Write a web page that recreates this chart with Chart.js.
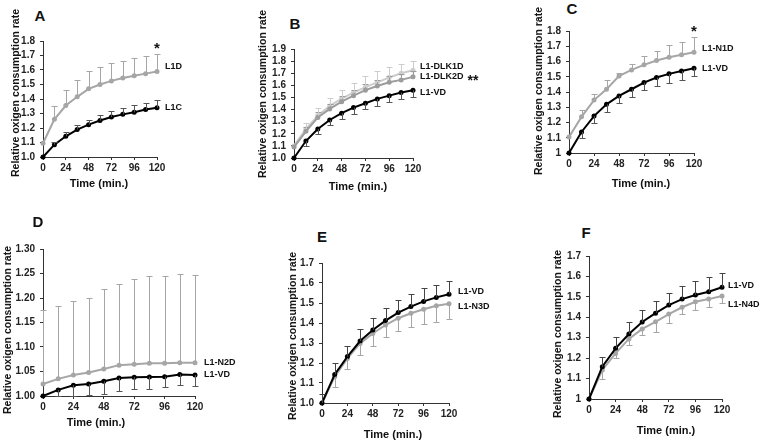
<!DOCTYPE html>
<html>
<head>
<meta charset="utf-8">
<script src="https://cdn.jsdelivr.net/npm/chart.js@4.4.1/dist/chart.umd.min.js"></script>
<style>
  html, body { margin: 0; padding: 0; background: #fff; }
  #fig { position: relative; width: 760px; height: 442px; overflow: hidden; font-family: Arial, "Liberation Sans", sans-serif; color: #111; }
  #fig canvas { position: absolute; }
  .lt { position: absolute; font-weight: bold; font-size: 15px; transform: translate(-50%, -50%); }
  .xt { position: absolute; font-weight: bold; font-size: 11px; white-space: nowrap; transform: translate(-50%, -50%); }
  .yt { position: absolute; font-weight: bold; font-size: 10.5px; white-space: nowrap; transform: translate(-50%, -50%) rotate(-90deg); }
</style>
</head>
<body>
<div id="fig"></div>
<script>
/* Relative oxigen consumption rate — 6 paneller (A–F) */

// ortak eksen
const timeMin = [0, 12, 24, 36, 48, 60, 72, 84, 96, 108, 120];
const xTickValues = [0, 24, 48, 72, 96, 120];
const xTickLabels = ["0", "24", "48", "72", "96", "120"];

// y tick'leri
const yTicksA = [1.0, 1.1, 1.2, 1.3, 1.4, 1.5, 1.6, 1.7, 1.8];
const yLabelsA = ["1.0", "1.1", "1.2", "1.3", "1.4", "1.5", "1.6", "1.7", "1.8"];
const yTicksB = [1.0, 1.1, 1.2, 1.3, 1.4, 1.5, 1.6, 1.7, 1.8, 1.9];
const yLabelsB = ["1.0", "1.1", "1.2", "1.3", "1.4", "1.5", "1.6", "1.7", "1.8", "1.9"];
const yTicksC = [1.0, 1.1, 1.2, 1.3, 1.4, 1.5, 1.6, 1.7, 1.8];
const yLabelsC = ["1", "1.1", "1.2", "1.3", "1.4", "1.5", "1.6", "1.7", "1.8"];
const yTicksD = [1.00, 1.05, 1.10, 1.15, 1.20, 1.25, 1.30];
const yLabelsD = ["1.00", "1.05", "1.10", "1.15", "1.20", "1.25", "1.30"];
const yTicksE = [1.0, 1.1, 1.2, 1.3, 1.4, 1.5, 1.6, 1.7];
const yLabelsE = ["1.0", "1.1", "1.2", "1.3", "1.4", "1.5", "1.6", "1.7"];
const yTicksF = [1.0, 1.1, 1.2, 1.3, 1.4, 1.5, 1.6, 1.7];
const yLabelsF = ["1", "1.1", "1.2", "1.3", "1.4", "1.5", "1.6", "1.7"];

// A
const a_L1C = [1.0, 1.085, 1.143, 1.189, 1.223, 1.252, 1.276, 1.294, 1.308, 1.327, 1.34];
const a_L1C_up = [0, 0.02, 0.032, 0.035, 0.035, 0.038, 0.042, 0.045, 0.048, 0.047, 0.05];
const a_L1D = [1.095, 1.26, 1.355, 1.415, 1.47, 1.5, 1.525, 1.545, 1.56, 1.575, 1.59];
const a_L1D_up = [0, 0.09, 0.11, 0.115, 0.12, 0.12, 0.12, 0.12, 0.125, 0.125, 0.12];
// B
const b_VD = [1.0, 1.14, 1.24, 1.314, 1.37, 1.416, 1.452, 1.488, 1.515, 1.54, 1.56];
const b_VD_down = [0, 0.045, 0.045, 0.045, 0.05, 0.05, 0.05, 0.055, 0.055, 0.055, 0.06];
const b_DLK1D = [1.1, 1.24, 1.35, 1.43, 1.49, 1.54, 1.585, 1.625, 1.665, 1.7, 1.725];
const b_DLK1D_up = [0, 0.05, 0.06, 0.065, 0.075, 0.08, 0.09, 0.09, 0.085, 0.08, 0.075];
const b_DLK2D = [1.09, 1.22, 1.335, 1.405, 1.465, 1.515, 1.56, 1.595, 1.625, 1.645, 1.67];
const b_DLK2D_up = [0, 0.04, 0.045, 0.045, 0.05, 0.05, 0.05, 0.05, 0.05, 0.045, 0.045];
// C
const c_VD = [1.0, 1.138, 1.242, 1.319, 1.374, 1.418, 1.462, 1.495, 1.519, 1.538, 1.556];
const c_VD_down = [0, 0.04, 0.044, 0.05, 0.045, 0.048, 0.049, 0.055, 0.057, 0.058, 0.051];
const c_N1D = [1.105, 1.237, 1.347, 1.418, 1.505, 1.545, 1.578, 1.607, 1.628, 1.644, 1.66];
const c_N1D_up = [0, 0.043, 0.043, 0.062, 0.022, 0.04, 0.055, 0.065, 0.077, 0.086, 0.098];
// D
const d_VD = [1.0, 1.0125, 1.022, 1.0245, 1.03, 1.0365, 1.0385, 1.039, 1.0395, 1.044, 1.043];
const d_VD_down = [0, 0.012, 0.021, 0.022, 0.026, 0.026, 0.025, 0.025, 0.021, 0.021, 0.023];
const d_N2D = [1.0245, 1.035, 1.043, 1.048, 1.055, 1.063, 1.065, 1.067, 1.067, 1.068, 1.068];
const d_N2D_up = [0.15, 0.149, 0.15, 0.153, 0.163, 0.165, 0.173, 0.177, 0.178, 0.181, 0.179];
// E
const e_VD = [1.0, 1.143, 1.232, 1.31, 1.365, 1.412, 1.452, 1.482, 1.508, 1.528, 1.544];
const e_VD_up = [0.047, 0.056, 0.054, 0.058, 0.059, 0.062, 0.064, 0.064, 0.067, 0.063, 0.064];
const e_N3D = [1.0, 1.131, 1.223, 1.298, 1.348, 1.39, 1.424, 1.449, 1.469, 1.486, 1.496];
const e_N3D_down = [0, 0.051, 0.051, 0.059, 0.062, 0.058, 0.064, 0.07, 0.075, 0.079, 0.077];
// F
const f_VD = [1.0, 1.158, 1.248, 1.318, 1.377, 1.42, 1.46, 1.489, 1.509, 1.525, 1.547];
const f_VD_up = [0, 0.049, 0.054, 0.057, 0.059, 0.06, 0.06, 0.066, 0.068, 0.07, 0.068];
const f_N4D = [1.0, 1.142, 1.223, 1.294, 1.343, 1.378, 1.416, 1.449, 1.476, 1.489, 1.504];
const f_N4D_down = [0, 0.046, 0.023, 0.03, 0.03, 0.048, 0.042, 0.033, 0.04, 0.04, 0.036];

const BLACK = "#000000", GRAY = "#a6a6a6", LIGHT = "#cdcdcd", MID = "#9c9c9c";
const YTITLE = "Relative oxigen consumption rate", XTITLE = "Time (min.)";

Chart.defaults.font.family = 'Arial, "Liberation Sans", sans-serif';

function ser(label, vals, color, up, down, errColor) {
  return { label, vals, color, up, down, errColor: errColor || color };
}

// panel düzeni: box = [sol, üst, sağ, alt] çizim alanı
const panels = [
  { letter: "A", box: [43, 41, 157, 157], yT: yTicksA, yL: yLabelsA, at: [40, 15], xt: [99, 183], yt: [15, 93], dx: 8,
    series: [ser("L1C", a_L1C, BLACK, a_L1C_up, null, "#555"), ser("L1D", a_L1D, GRAY, a_L1D_up, null)],
    labels: [{ ds: 1, text: "L1D", dy: -5 }, { ds: 0, text: "L1C", dy: 0 }], star: { ds: 1, text: "*" } },
  { letter: "B", box: [294, 49, 413, 158], yT: yTicksB, yL: yLabelsB, at: [295, 23], xt: [358, 186], yt: [262, 94], dx: 7,
    series: [ser("L1-VD", b_VD, BLACK, null, b_VD_down, "#555"), ser("L1-DLK2D", b_DLK2D, MID, b_DLK2D_up, null), ser("L1-DLK1D", b_DLK1D, LIGHT, b_DLK1D_up, null)],
    labels: [{ ds: 2, text: "L1-DLK1D", dy: -4 }, { ds: 1, text: "L1-DLK2D", dy: 0, suffix: "**" }, { ds: 0, text: "L1-VD", dy: 2 }] },
  { letter: "C", box: [569, 31, 694, 153], yT: yTicksC, yL: yLabelsC, at: [572, 8], xt: [641, 183], yt: [538, 91], dx: 8,
    series: [ser("L1-VD", c_VD, BLACK, null, c_VD_down, "#555"), ser("L1-N1D", c_N1D, GRAY, c_N1D_up, null)],
    labels: [{ ds: 1, text: "L1-N1D", dy: -4 }, { ds: 0, text: "L1-VD", dy: 0 }], star: { ds: 1, text: "*" } },
  { letter: "D", box: [43, 249, 195, 396], yT: yTicksD, yL: yLabelsD, at: [38, 221], xt: [96, 422], yt: [7, 330], dx: 9,
    series: [ser("L1-VD", d_VD, BLACK, null, d_VD_down, "#555"), ser("L1-N2D", d_N2D, GRAY, d_N2D_up, null)],
    labels: [{ ds: 1, text: "L1-N2D", dy: 0 }, { ds: 0, text: "L1-VD", dy: 0 }] },
  { letter: "E", box: [322, 263, 449, 403], yT: yTicksE, yL: yLabelsE, at: [322, 236], xt: [393, 434], yt: [292, 336], dx: 9,
    series: [ser("L1-VD", e_VD, BLACK, e_VD_up, null, "#444"), ser("L1-N3D", e_N3D, GRAY, null, e_N3D_down)],
    labels: [{ ds: 0, text: "L1-VD", dy: -3 }, { ds: 1, text: "L1-N3D", dy: 3 }] },
  { letter: "F", box: [589, 256, 722, 399], yT: yTicksF, yL: yLabelsF, at: [586, 232], xt: [666, 430], yt: [557, 334], dx: 6,
    series: [ser("L1-VD", f_VD, BLACK, f_VD_up, null, "#444"), ser("L1-N4D", f_N4D, GRAY, null, f_N4D_down)],
    labels: [{ ds: 0, text: "L1-VD", dy: -2 }, { ds: 1, text: "L1-N4D", dy: 8 }] }
];

// hata çubukları (Excel tarzı, tek yönlü)
const errorBars = {
  id: "errorBars",
  afterDatasetsDraw(chart) {
    const { ctx, scales: { x, y } } = chart;
    ctx.save();
    ctx.lineWidth = 1;
    chart.data.datasets.forEach(ds => {
      ctx.strokeStyle = ds.errColor;
      ds.data.forEach((pt, i) => {
        const px = Math.round(x.getPixelForValue(pt.x)) + 0.5;
        const ends = [];
        if (ds.errUp && ds.errUp[i]) ends.push(pt.y + ds.errUp[i]);
        if (ds.errDown && ds.errDown[i]) ends.push(pt.y - ds.errDown[i]);
        ends.forEach(v => {
          const py = y.getPixelForValue(pt.y), pe = Math.round(y.getPixelForValue(v)) + 0.5;
          ctx.beginPath();
          ctx.moveTo(px, py); ctx.lineTo(px, pe);
          ctx.moveTo(px - 3, pe); ctx.lineTo(px + 3, pe);
          ctx.stroke();
        });
      });
    });
    ctx.restore();
  }
};

// seri etiketleri + yıldız
const seriesText = {
  id: "seriesText",
  afterDraw(chart) {
    const p = chart.options.plugins.seriesText;
    const { ctx, scales: { x, y } } = chart;
    const ds = chart.data.datasets;
    ctx.save();
    ctx.fillStyle = "#111";
    p.labels.forEach(l => {
      const last = ds[l.ds].data[ds[l.ds].data.length - 1];
      const lx = x.getPixelForValue(last.x) + p.dx, ly = y.getPixelForValue(last.y) + l.dy;
      ctx.font = "bold 9px Arial, 'Liberation Sans', sans-serif";
      ctx.textAlign = "left"; ctx.textBaseline = "middle";
      ctx.fillText(l.text, lx, ly);
      if (l.suffix) {
        const w = ctx.measureText(l.text).width;
        ctx.font = "bold 14px Arial, 'Liberation Sans', sans-serif";
        ctx.textBaseline = "alphabetic";
        ctx.fillText(l.suffix, lx + w + 4, ly + 8);
      }
    });
    if (p.star) {
      const d = ds[p.star.ds], n = d.data.length - 1, last = d.data[n];
      const top = y.getPixelForValue(last.y + (d.errUp ? d.errUp[n] : 0));
      ctx.font = "bold 15px Arial, 'Liberation Sans', sans-serif";
      ctx.textAlign = "center"; ctx.textBaseline = "alphabetic";
      ctx.fillText(p.star.text, x.getPixelForValue(last.x), top - 1);
    }
    ctx.restore();
  }
};

const fig = document.getElementById("fig");

function addText(cls, text, pos) {
  const el = document.createElement("div");
  el.className = cls; el.textContent = text;
  el.style.left = pos[0] + "px"; el.style.top = pos[1] + "px";
  fig.appendChild(el);
}

function drawPanel(p) {
  const [l, t, r, b] = p.box;
  const padL = 34, padT = 14, padR = 78, padB = 24;
  const cv = document.createElement("canvas");
  cv.width = r - l + padL + padR;
  cv.height = b - t + padT + padB;
  cv.style.left = (l - padL) + "px";
  cv.style.top = (t - padT) + "px";
  fig.appendChild(cv);

  const axisCommon = {
    border: { color: "#333", width: 1 },
    grid: { drawOnChartArea: false, drawTicks: true, tickLength: 3, color: "#333" },
  };

  new Chart(cv, {
    type: "line",
    data: {
      datasets: p.series.map(s => ({
        label: s.label,
        data: timeMin.map((tm, i) => ({ x: tm, y: s.vals[i] })),
        borderColor: s.color, backgroundColor: s.color,
        pointBackgroundColor: s.color, pointBorderColor: s.color,
        borderWidth: 2, pointRadius: 2.5, pointBorderWidth: 0, tension: 0, clip: false,
        errUp: s.up, errDown: s.down, errColor: s.errColor
      }))
    },
    options: {
      responsive: false, animation: false, devicePixelRatio: 1,
      layout: { padding: { left: 0, top: padT, right: padR, bottom: 0 } },
      plugins: { legend: { display: false }, tooltip: { enabled: false },
        seriesText: { labels: p.labels, star: p.star, dx: p.dx } },
      scales: {
        x: { ...axisCommon, type: "linear", min: 0, max: 120,
          afterBuildTicks: s => { s.ticks = xTickValues.map(v => ({ value: v })); },
          afterFit: s => { s.height = padB; },
          ticks: { autoSkip: false, maxRotation: 0, padding: 2, color: "#222",
            font: { size: 10, weight: "bold" }, callback: (v, i) => xTickLabels[i] } },
        y: { ...axisCommon, min: p.yT[0], max: p.yT[p.yT.length - 1],
          afterBuildTicks: s => { s.ticks = p.yT.map(v => ({ value: v })); },
          afterFit: s => { s.width = padL; },
          ticks: { autoSkip: false, padding: 5, color: "#222",
            font: { size: 10, weight: "bold" }, callback: (v, i) => p.yL[i] } }
      }
    },
    plugins: [errorBars, seriesText]
  });

  addText("lt", p.letter, p.at);
  addText("xt", XTITLE, p.xt);
  addText("yt", YTITLE, p.yt);
}

panels.forEach(drawPanel);
</script>
</body>
</html>
